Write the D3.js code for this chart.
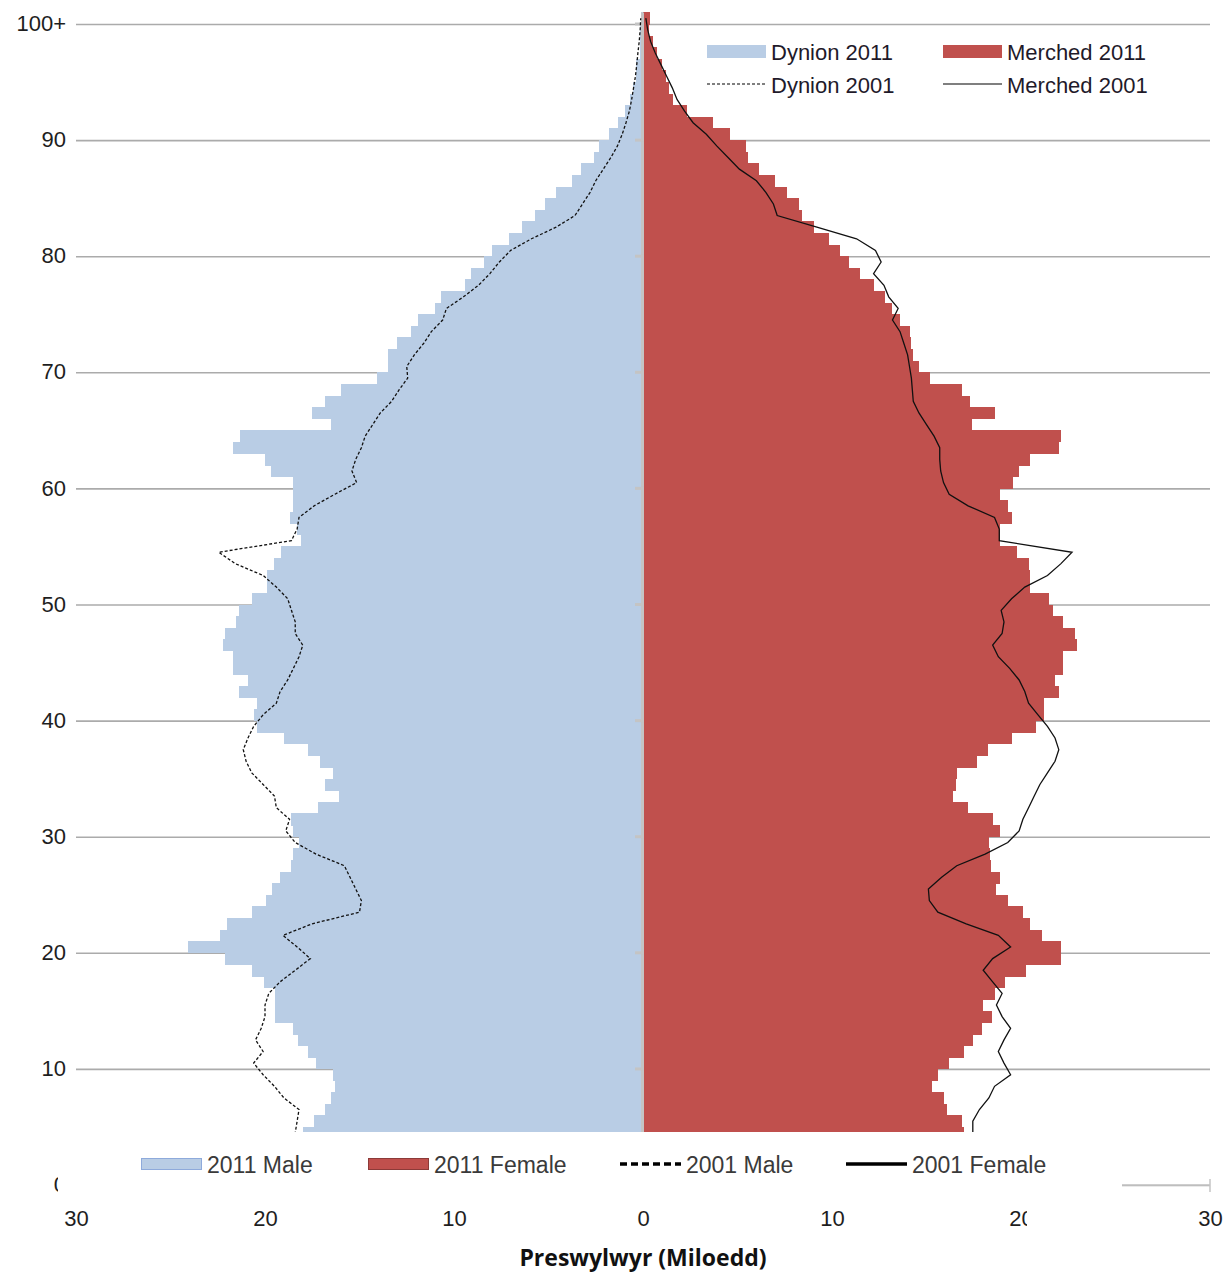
<!DOCTYPE html>
<html>
<head>
<meta charset="utf-8">
<script src="https://cdn.jsdelivr.net/npm/d3@7"></script>
<style>
  body { margin: 0; background: #fff; }
  svg { display: block; font-family: "Liberation Sans", Arial, sans-serif; }
</style>
</head>
<body>
<svg id="pyramid"></svg>
<script>
const width = 1231;
const height = 1277;

// ages 0..100 (100 = "100+"), values in thousands
const ages = d3.range(0, 101);

const male2011 = [
  17.2, 17.5, 17.7, 17.9, 18.0, 17.4, 16.8, 16.5, 16.3, 16.4,
  17.3, 17.7, 18.25, 18.5, 19.45, 19.45, 19.45, 20.05, 20.7, 22.1,
  24.1, 22.4, 22.0, 20.7, 19.95, 19.65, 19.2, 18.6, 18.5, 18.2,
  18.5, 18.65, 17.2, 16.1, 16.8, 16.4, 17.1, 17.7, 19.0, 20.4,
  20.6, 20.4, 21.4, 20.9, 21.7, 21.7, 22.2, 22.1, 21.55, 21.4,
  20.7, 19.9, 19.9, 19.5, 19.15, 18.1, 18.3, 18.7, 18.5, 18.5,
  18.5, 19.7, 20.0, 21.7, 21.3, 16.5, 17.5, 16.8, 16.0, 14.1,
  13.5, 13.5, 13.0, 12.3, 11.9, 11.0, 10.7, 9.4, 9.1, 8.4,
  8.0, 7.1, 6.4, 5.7, 5.2, 4.6, 3.75, 3.3, 2.6, 2.35,
  1.8, 1.3, 0.95, 0.68, 0.52, 0.37, 0.37, 0.17, 0.17, 0.17,
  0.12
];

const female2011 = [
  17.0, 17.1, 17.0, 16.9, 17.0, 16.9, 16.1, 15.9, 15.3, 15.6,
  16.2, 17.0, 17.45, 17.95, 18.45, 18.0, 18.6, 19.15, 20.25, 22.1,
  22.1, 21.1, 20.5, 20.1, 19.3, 18.66, 18.9, 18.4, 18.36, 18.3,
  18.9, 18.5, 17.2, 16.4, 16.55, 16.6, 17.66, 18.27, 19.55, 20.8,
  21.2, 21.2, 22.0, 21.8, 22.2, 22.2, 22.95, 22.85, 22.2, 21.7,
  21.5, 20.5, 20.5, 20.4, 19.8, 18.9, 18.9, 19.55, 19.3, 18.9,
  19.6, 19.9, 20.5, 22.0, 22.1, 17.4, 18.6, 17.3, 16.9, 15.2,
  14.6, 14.3, 14.2, 14.15, 13.6, 13.16, 12.8, 12.2, 11.5, 10.9,
  10.44, 9.86, 9.04, 8.4, 8.25, 7.6, 6.98, 6.15, 5.53, 5.43,
  4.6, 3.68, 2.34, 1.6, 1.4, 1.2, 1.0, 0.75, 0.55, 0.3,
  0.35
];

const male2001 = [
  18.5, 18.6, 18.6, 18.5, 18.4, 18.3, 18.2, 19.0, 19.5, 20.1,
  20.6, 20.1, 20.5, 20.2, 20.0, 20.0, 19.8, 19.2, 18.4, 17.6,
  18.3, 19.05, 17.5, 15.0, 14.9, 15.2, 15.5, 15.8, 17.3, 18.4,
  18.9, 18.7, 19.4, 19.5, 20.1, 20.7, 21.0, 21.15, 20.9, 20.6,
  20.1, 19.4, 19.2, 18.8, 18.5, 18.2, 18.0, 18.4, 18.4, 18.6,
  18.8, 19.4, 20.1, 21.55, 22.45, 18.6, 18.3, 18.2, 17.4, 16.3,
  15.15, 15.4, 15.2, 14.9, 14.7, 14.3, 13.9, 13.3, 12.9, 12.45,
  12.5, 12.1, 11.6, 11.2, 10.6, 10.4, 9.5, 8.7, 8.1, 7.6,
  7.0, 5.9, 4.6, 3.6, 3.2, 2.8, 2.5, 2.1, 1.7, 1.35,
  1.1, 0.9, 0.72, 0.6, 0.5, 0.4, 0.33, 0.27, 0.2, 0.15,
  0.12
];

const female2001 = [
  17.6, 17.5, 17.4, 17.4, 17.45, 17.45, 17.8, 18.3, 18.6, 19.45,
  19.1, 18.8, 19.1, 19.45, 19.0, 18.7, 19.0, 18.5, 18.0, 18.5,
  19.45, 18.8, 17.1, 15.6, 15.15, 15.1, 15.8, 16.6, 18.1, 19.3,
  19.9, 20.1, 20.4, 20.7, 21.0, 21.4, 21.8, 22.0, 21.8, 21.4,
  20.9, 20.4, 20.2, 19.9, 19.4, 18.8, 18.5, 19.0, 19.1, 18.95,
  19.5, 20.2, 21.4, 22.1, 22.7, 18.85, 18.85, 18.6, 17.2, 16.2,
  15.9, 15.75, 15.7, 15.7, 15.4, 15.0, 14.6, 14.3, 14.25, 14.2,
  14.1, 14.0, 13.8, 13.6, 13.2, 13.5, 13.0, 12.75, 12.2, 12.6,
  12.3, 11.3, 9.2, 7.1, 6.9, 6.5, 6.0, 5.1, 4.5, 3.9,
  3.35, 2.65, 2.2, 1.8, 1.55, 1.25, 0.95, 0.65, 0.4, 0.25,
  0.15
];

const ageTicks = d3.range(0, 101, 10);
const popTicks = [-30, -20, -10, 0, 10, 20, 30];

const topLegend = [
  { label: "Dynion 2011", type: "bar", color: "#b9cde5", col: 0, row: 0 },
  { label: "Merched 2011", type: "bar", color: "#c0504d", col: 1, row: 0 },
  { label: "Dynion 2001", type: "dash", color: "#000", col: 0, row: 1 },
  { label: "Merched 2001", type: "line", color: "#000", col: 1, row: 1 }
];
const bottomLegend = [
  { label: "2011 Male", type: "bar", color: "#b9cde5", stroke: "#8eaadb", x: 141 },
  { label: "2011 Female", type: "bar", color: "#c0504d", stroke: "#8c3a38", x: 368 },
  { label: "2001 Male", type: "dash", color: "#000", x: 620 },
  { label: "2001 Female", type: "line", color: "#000", x: 846 }
];

const svg = d3.select("#pyramid")
    .attr("width", width)
    .attr("height", height);

const x = d3.scaleLinear().domain([-30, 30]).range([76, 1210]);
const y = d3.scaleLinear().domain([0, 100]).range([1185, 24]);

// gridlines + age labels
const yAxis = svg.append("g")
    .attr("transform", `translate(${x(-30)},0)`)
    .call(d3.axisLeft(y)
        .tickValues(ageTicks)
        .tickSize(-(x(30) - x(-30)))
        .tickPadding(10)
        .tickFormat(d => d === 100 ? "100+" : d));
yAxis.select(".domain").remove();
yAxis.selectAll(".tick line").attr("stroke", "#ababab").attr("stroke-width", 1.6);
yAxis.selectAll(".tick text")
    .attr("fill", "#1e1e1e")
    .attr("dy", "0.3em")
    .style("font-size", "22px");

// bars (one per single year of age)
svg.append("g")
    .attr("shape-rendering", "crispEdges")
    .selectAll("rect")
    .data(ages)
    .join("rect")
    .attr("x", a => x(-male2011[a]))
    .attr("y", a => y(a + 1))
    .attr("width", a => x(0) - x(-male2011[a]))
    .attr("height", a => y(a) - y(a + 1) + 0.5)
    .attr("fill", "#b9cde5");

svg.append("g")
    .attr("shape-rendering", "crispEdges")
    .selectAll("rect")
    .data(ages)
    .join("rect")
    .attr("x", x(0))
    .attr("y", a => y(a + 1))
    .attr("width", a => x(female2011[a]) - x(0))
    .attr("height", a => y(a) - y(a + 1) + 0.5)
    .attr("fill", "#c0504d");

// centre axis
svg.append("line")
    .attr("x1", x(0) - 0.5).attr("x2", x(0) - 0.5)
    .attr("y1", y(101)).attr("y2", y(0))
    .attr("stroke", "#c4c4c4").attr("stroke-width", 3);
svg.append("g").selectAll("line")
    .data(ageTicks)
    .join("line")
    .attr("x1", x(0) - 8).attr("x2", x(0) + 1)
    .attr("y1", d => y(d)).attr("y2", d => y(d))
    .attr("stroke", "#c4c4c4").attr("stroke-width", 3);

// 2001 lines
const maleLine = d3.line()
    .x(a => x(-male2001[a]))
    .y(a => y(a + 0.5));
const femaleLine = d3.line()
    .x(a => x(female2001[a]))
    .y(a => y(a + 0.5));

svg.append("path")
    .datum(ages)
    .attr("d", maleLine)
    .attr("fill", "none")
    .attr("stroke", "#111")
    .attr("stroke-width", 1.3)
    .attr("stroke-dasharray", "3,2");

svg.append("path")
    .datum(ages)
    .attr("d", femaleLine)
    .attr("fill", "none")
    .attr("stroke", "#111")
    .attr("stroke-width", 1.3);

// top legend
const tl = svg.append("g").selectAll("g")
    .data(topLegend)
    .join("g")
    .attr("transform", d => `translate(${d.col ? 943 : 707},${d.row ? 84 : 51})`);
tl.filter(d => d.type === "bar").append("rect")
    .attr("x", 0).attr("y", -6).attr("width", 59).attr("height", 13)
    .attr("fill", d => d.color);
tl.filter(d => d.type !== "bar").append("line")
    .attr("x1", 0).attr("x2", 59)
    .attr("stroke", d => d.color)
    .attr("stroke-width", 1.2)
    .attr("stroke-dasharray", d => d.type === "dash" ? "3,2" : null);
tl.append("text")
    .attr("x", 64).attr("y", 9)
    .attr("fill", "#1f1a2a")
    .style("font-size", "22px")
    .text(d => d.label);

// x axis (mostly hidden behind the legend box)
svg.append("line")
    .attr("x1", x(-30)).attr("x2", x(30))
    .attr("y1", y(0)).attr("y2", y(0))
    .attr("stroke", "#c4c4c4").attr("stroke-width", 1.5);
svg.append("line")
    .attr("x1", x(30)).attr("x2", x(30))
    .attr("y1", y(0) - 6).attr("y2", y(0) + 7)
    .attr("stroke", "#c4c4c4").attr("stroke-width", 1.5);

const xAxis = svg.append("g")
    .attr("transform", `translate(0,${y(0)})`)
    .call(d3.axisBottom(x)
        .tickValues(popTicks)
        .tickSize(0)
        .tickPadding(25)
        .tickFormat(d => Math.abs(d)));
xAxis.select(".domain").remove();
xAxis.selectAll(".tick text")
    .attr("fill", "#1e1e1e")
    .style("font-size", "22px");

// white legend box over the bottom of the plot
svg.append("rect")
    .attr("x", 58).attr("y", 1132)
    .attr("width", 1064).attr("height", 70)
    .attr("fill", "#fff");
svg.append("rect")
    .attr("x", 1027).attr("y", 1204)
    .attr("width", 40).attr("height", 32)
    .attr("fill", "#fff");

const bl = svg.append("g").selectAll("g")
    .data(bottomLegend)
    .join("g")
    .attr("transform", d => `translate(${d.x},1164)`);
bl.filter(d => d.type === "bar").append("rect")
    .attr("x", 0.5).attr("y", -5.5).attr("width", 60).attr("height", 11)
    .attr("fill", d => d.color)
    .attr("stroke", d => d.stroke);
bl.filter(d => d.type !== "bar").append("line")
    .attr("x1", 0).attr("x2", 61)
    .attr("stroke", d => d.color)
    .attr("stroke-width", 3.5)
    .attr("stroke-dasharray", d => d.type === "dash" ? "7,4" : null);
bl.append("text")
    .attr("x", 66).attr("y", 9)
    .attr("fill", "#3a3a3a")
    .style("font-size", "23px")
    .text(d => d.label);

// axis title
svg.append("text")
    .attr("x", x(0))
    .attr("y", 1266)
    .attr("text-anchor", "middle")
    .attr("fill", "#111")
    .style("font-family", "'Open Sans', sans-serif")
    .style("font-weight", "700")
    .style("font-size", "23px")
    .text("Preswylwyr (Miloedd)");
</script>
</body>
</html>
